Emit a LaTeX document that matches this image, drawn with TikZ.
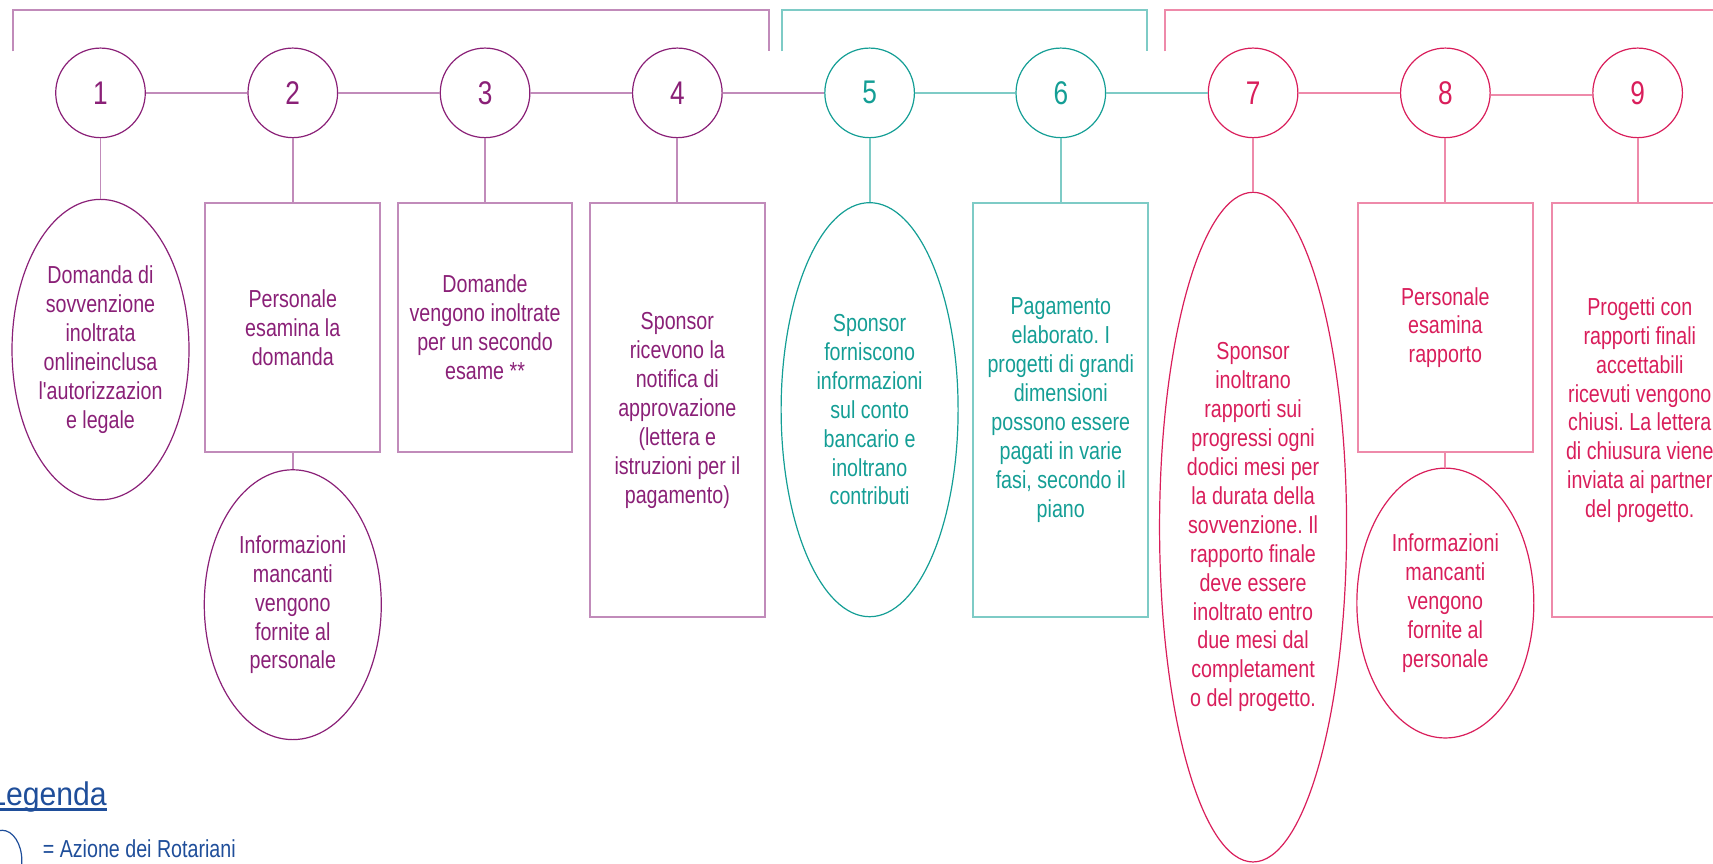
\documentclass[tikz,border=0pt]{standalone}
\usepackage{fontspec}
\newfontfamily\nf{Liberation Sans}[FakeStretch=0.8,Ligatures=TeXOff]
\newfontfamily\lf{Liberation Sans}[FakeStretch=0.92,Ligatures=TeXOff]
\usetikzlibrary{shapes.geometric}
\definecolor{pD}{HTML}{8A2077}
\definecolor{pL}{HTML}{C18BBA}
\definecolor{tD}{HTML}{149E95}
\definecolor{tL}{HTML}{7ECBC6}
\definecolor{kD}{HTML}{D91E5B}
\definecolor{kL}{HTML}{EE8AAA}
\definecolor{lB}{HTML}{1F4E9A}
\frenchspacing
\tikzset{
  num/.style={circle, draw, line width=1.1pt, minimum size=82pt, inner sep=0pt, font=\nf\fontsize{30}{32}\selectfont},
  txt/.style={align=center, font=\nf\fontsize{22.5}{26.5}\selectfont, inner sep=0pt},
  boxS/.style={txt, rectangle, draw, line width=1.8pt, minimum width=160pt, minimum height=228pt, anchor=north},
  boxT/.style={boxS, minimum height=379pt},
  ell/.style={txt, ellipse, draw, line width=1.1pt, minimum width=162pt},
  link/.style={line width=1.8pt},
  grpP/.style={draw=pD, text=pD},
  grpT/.style={draw=tD, text=tD},
  grpK/.style={draw=kD, text=kD}
}
\begin{document}
\begin{tikzpicture}[x=1pt,y=-1pt]
\useasboundingbox (0,0) rectangle (1568,790);
\clip (0,0) rectangle (1568,790);

% brackets
\draw[link,pL] (12,47) -- (12,9.5) -- (704,9.5) -- (704,47);
\draw[link,tL] (716,47) -- (716,9.5) -- (1050,9.5) -- (1050,47);
\draw[link,kL] (1066,47) -- (1066,9.5) -- (1590,9.5);

% numbered circles
\node[num,grpP] (c1) at (92,85) {1};
\node[num,grpP] (c2) at (268,85) {2};
\node[num,grpP] (c3) at (444,85) {3};
\node[num,grpP] (c4) at (620,85) {4};
\node[num,grpT] (c5) at (796,85) {5};
\node[num,grpT] (c6) at (971,85) {6};
\node[num,grpK] (c7) at (1147,85) {7};
\node[num,grpK] (c8) at (1323,85) {8};
\node[num,grpK] (c9) at (1499,85) {9};

% step nodes
\node[ell,grpP,minimum height=275pt] (e1) at (92,320) {Domanda di\\sovvenzione\\inoltrata\\onlineinclusa\\l'autorizzazion\\e legale};
\node[boxS,draw=pL,text=pD] (b2) at (268,185) {Personale\\esamina la\\domanda};
\node[ell,grpP,minimum height=247pt] (e2) at (268,553.5) {Informazioni\\mancanti\\vengono\\fornite al\\personale};
\node[boxS,draw=pL,text=pD] (b3) at (444,185) {Domande\\vengono inoltrate\\per un secondo\\esame **};
\node[boxT,draw=pL,text=pD] (b4) at (620,185) {Sponsor\\ricevono la\\notifica di\\approvazione\\(lettera e\\istruzioni per il\\pagamento)};
\node[ell,grpT,minimum height=379pt] (e5) at (796,375) {Sponsor\\forniscono\\informazioni\\sul conto\\bancario e\\inoltrano\\contributi};
\node[boxT,draw=tL,text=tD] (b6) at (971,185) {Pagamento\\elaborato. I\\progetti di grandi\\dimensioni\\possono essere\\pagati in varie\\fasi, secondo il\\piano};
\node[ell,grpK,minimum height=613pt] (e7) at (1147,482.5) {Sponsor\\inoltrano\\rapporti sui\\progressi ogni\\dodici mesi per\\la durata della\\sovvenzione. Il\\rapporto finale\\deve essere\\inoltrato entro\\due mesi dal\\completament\\o del progetto.};
\node[boxS,draw=kL,text=kD] (b8) at (1323,185) {Personale\\esamina\\rapporto};
\node[ell,grpK,minimum height=247pt] (e8) at (1323,552) {Informazioni\\mancanti\\vengono\\fornite al\\personale};
\node[boxT,draw=kL,text=kD] (b9) at (1501,185) {Progetti con\\rapporti finali\\accettabili\\ricevuti vengono\\chiusi. La lettera\\di chiusura viene\\inviata ai partner\\del progetto.};

% horizontal connectors
\draw[link,pL] (c1) -- (c2);
\draw[link,pL] (c2) -- (c3);
\draw[link,pL] (c3) -- (c4);
\draw[link,pL] (c4) -- (c5);
\draw[link,tL] (c5) -- (c6);
\draw[link,tL] (c6) -- (c7);
\draw[link,kL] (c7) -- (c8);
\draw[link,kL] ([yshift=-2pt]c8.east) -- ([yshift=-2pt]c9.west);

% vertical connectors
\draw[link,pL] (c1) -- (e1);
\draw[link,pL] (c2) -- (b2);
\draw[link,pL] (b2) -- (e2);
\draw[link,pL] (c3) -- (b3);
\draw[link,pL] (c4) -- (b4);
\draw[link,tL] (c5) -- (e5);
\draw[link,tL] (c6) -- (b6);
\draw[link,kL] (c7) -- (e7);
\draw[link,kL] (c8) -- (b8);
\draw[link,kL] (b8) -- (e8);
\draw[link,kL] (c9.south) -- (c9.south |- b9.north);

% legend
\node[font=\lf\fontsize{30}{32}\selectfont, text=lB, anchor=base west, inner sep=0pt] (leg) at (-10,737) {Legenda};
\draw[lB, line width=2.2pt] ([yshift=-4pt]leg.base west) -- ([yshift=-4pt]leg.base east);
\node[ellipse, draw=lB, line width=1.1pt, minimum width=36pt, minimum height=56pt, inner sep=0pt] (legell) at (2,788) {};
\node[txt, text=lB, anchor=base west] (legtxt) at (39,785) {= Azione dei Rotariani};
\end{tikzpicture}
\end{document}
